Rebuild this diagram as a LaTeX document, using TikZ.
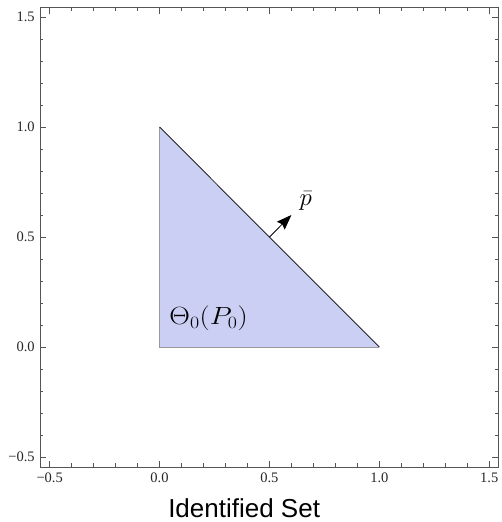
\documentclass[tikz,border=0pt]{standalone}
\usepackage{fontspec}
\usepackage{graphicx}
\newfontfamily\tickfont{Liberation Serif}
\newfontfamily\titlefont{Liberation Sans}
\usetikzlibrary{arrows.meta}
\definecolor{setfill}{RGB}{203,207,244}
\definecolor{framegray}{RGB}{85,85,85}

\begin{document}
\begin{tikzpicture}[x=219.7pt, y=220pt,
    frameline/.style={draw=framegray, line width=0.9pt},
    majortick/.style={draw=framegray, line width=0.8pt},
    minortick/.style={draw=framegray, line width=0.6pt},
    ticklabel/.style={font=\fontsize{14.5}{16}\tickfont, text=black!85, inner sep=0pt},
    arr/.style={-{Stealth[length=15pt, width=11pt, inset=2pt]}, line width=0.8pt}]
  \useasboundingbox (-0.726,-0.795) rectangle (1.554,1.577);

  % identified set (triangle)
  \coordinate (o) at (0,0);
  \coordinate (top) at (0,1);
  \coordinate (right) at (1,0);
  \fill[setfill] (o) -- (top) -- (right) -- cycle;
  \draw[black!40, line width=0.5pt] (top) -- (o) -- (right);
  \draw[black, line width=0.7pt] (top) -- (right);

  % frame
  \coordinate (sw) at (-0.544,-0.545);
  \coordinate (ne) at (1.541,1.541);
  \draw[frameline] (sw) rectangle (ne);

  % major ticks, all four sides
  \foreach \t in {-0.5,0,0.5,1,1.5} {
    \draw[majortick] (\t,-0.545) -- ++(0,6pt);
    \draw[majortick] (\t,1.541) -- ++(0,-6pt);
    \draw[majortick] (-0.544,\t) -- ++(6pt,0);
    \draw[majortick] (1.541,\t) -- ++(-6pt,0);
  }
  % minor ticks
  \foreach \t in {-0.4,-0.3,-0.2,-0.1,0.1,0.2,0.3,0.4,0.6,0.7,0.8,0.9,1.1,1.2,1.3,1.4} {
    \draw[minortick] (\t,-0.545) -- ++(0,3.5pt);
    \draw[minortick] (\t,1.541) -- ++(0,-3.5pt);
    \draw[minortick] (-0.544,\t) -- ++(3.5pt,0);
    \draw[minortick] (1.541,\t) -- ++(-3.5pt,0);
  }

  % tick labels
  \foreach \t/\txt [count=\k] in {-0.5/−0.5, 0/0.0, 0.5/0.5, 1/1.0, 1.5/1.5} {
    \node[ticklabel, anchor=north] (xlab\k) at (\t,-0.571) {\txt};
    \node[ticklabel, anchor=east] (ylab\k) at (-0.567,\t) {\txt};
  }

  % normal vector
  \coordinate (foot) at (0.5,0.5);
  \coordinate (head) at (0.6,0.6);
  \draw[arr] (foot) -- (head);
  \node[inner sep=1pt] (pbar) at (0.665,0.665) {\fontsize{23}{27}\selectfont$\bar p$};

  % set label and title
  \node (setlabel) at (0.223,0.13) {\fontsize{23}{27}\selectfont\scalebox{1.15}[1]{$\Theta_0(P_0)$}};
  \node[font=\fontsize{26}{30}\titlefont, anchor=base] (title) at (0.385,-0.773) {Identified Set};
\end{tikzpicture}
\end{document}
